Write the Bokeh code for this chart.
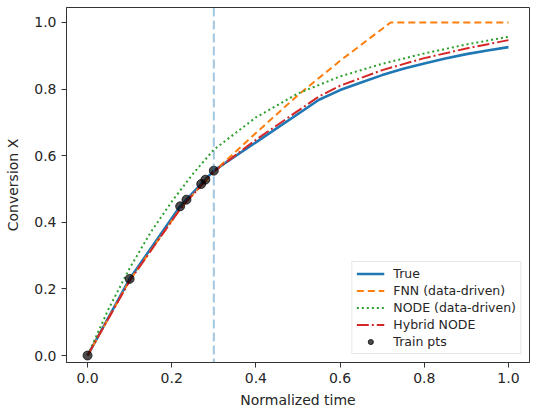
from bokeh.plotting import figure
from bokeh.models import Range1d, Legend, LegendItem, FixedTicker, Span
from bokeh.embed import file_html
from bokeh.resources import INLINE

# ---- data ----
t_true = [0.0, 0.10, 0.22, 0.235, 0.27, 0.28, 0.30, 0.55, 0.60, 0.65, 0.70, 0.75, 0.80, 0.85, 0.90, 0.95, 1.0]
x_true = [0.0, 0.230, 0.448, 0.468, 0.515, 0.528, 0.555, 0.768, 0.797, 0.820, 0.842, 0.861, 0.877, 0.892, 0.905, 0.916, 0.926]

t_fnn = [0.0, 0.10, 0.22, 0.235, 0.27, 0.28, 0.30, 0.40, 0.50, 0.60, 0.72, 1.0]
x_fnn = [0.0, 0.225, 0.440, 0.462, 0.510, 0.524, 0.552, 0.668, 0.782, 0.885, 1.0, 1.0]

t_node = [0.0, 0.05, 0.10, 0.15, 0.20, 0.25, 0.30, 0.40, 0.50, 0.60, 0.70, 0.80, 0.90, 1.0]
x_node = [0.0, 0.140, 0.262, 0.370, 0.462, 0.545, 0.618, 0.715, 0.787, 0.838, 0.876, 0.907, 0.934, 0.957]

t_hyb = [0.0, 0.10, 0.22, 0.235, 0.27, 0.28, 0.30, 0.40, 0.55, 0.60, 0.70, 0.80, 0.90, 1.0]
x_hyb = [0.0, 0.224, 0.440, 0.462, 0.510, 0.524, 0.552, 0.648, 0.778, 0.810, 0.857, 0.893, 0.922, 0.947]

t_train = [0.0, 0.10, 0.22, 0.235, 0.27, 0.28, 0.30]
x_train = [0.0, 0.230, 0.448, 0.468, 0.515, 0.528, 0.555]

t_split = 0.3
ticks = [0.0, 0.2, 0.4, 0.6, 0.8, 1.0]
tick_labels = {0.0: "0.0", 0.2: "0.2", 0.4: "0.4", 0.6: "0.6", 0.8: "0.8", 1.0: "1.0"}

FONT = "DejaVu Sans"

p = figure(width=536, height=415, output_backend="svg", toolbar_location=None,
           x_range=Range1d(-0.05, 1.05), y_range=Range1d(-0.021, 1.045),
           min_border_left=66, min_border_right=7, min_border_top=7, min_border_bottom=53)
p.xgrid.visible = False
p.ygrid.visible = False
p.outline_line_color = "#333333"
p.outline_line_width = 1
p.background_fill_color = "white"
p.border_fill_color = "white"

for ax in (p.xaxis[0], p.yaxis[0]):
    ax.ticker = FixedTicker(ticks=ticks)
    ax.major_label_overrides = tick_labels
    ax.minor_tick_line_color = None
    ax.major_tick_in = 0
    ax.major_tick_out = 5
    ax.major_label_text_font = FONT
    ax.major_label_text_font_size = "14px"
    ax.major_label_text_color = "#262626"
    ax.axis_label_text_font = FONT
    ax.axis_label_text_font_size = "14px"
    ax.axis_label_text_font_style = "normal"
    ax.axis_label_text_color = "#262626"
    ax.axis_line_color = "#333333"
    ax.major_tick_line_color = "#333333"
p.xaxis.axis_label = "Normalized time"
p.yaxis.axis_label = "Conversion X"
p.xaxis.major_label_standoff = 5
p.yaxis.major_label_standoff = 5
p.xaxis.axis_label_standoff = 6
p.yaxis.axis_label_standoff = 10

p.add_layout(Span(location=t_split, dimension="height", line_color="#1f77b4",
                  line_alpha=0.42, line_width=2, line_dash="9 4"))

r_true = p.line(t_true, x_true, line_color="#1f77b4", line_width=2.6)
r_fnn = p.line(t_fnn, x_fnn, line_color="#ff7f0e", line_width=2, line_dash="7 4")
r_node = p.line(t_node, x_node, line_color="#2ca02c", line_width=2, line_dash="2 3")
r_hyb = p.line(t_hyb, x_hyb, line_color="#d62728", line_width=2, line_dash="12 3 2 3")
r_train = p.scatter(t_train, x_train, size=9, fill_color="black", fill_alpha=0.7,
                    line_color="black", line_alpha=0.7)

legend = Legend(items=[
    LegendItem(label="True", renderers=[r_true]),
    LegendItem(label="FNN (data-driven)", renderers=[r_fnn]),
    LegendItem(label="NODE (data-driven)", renderers=[r_node]),
    LegendItem(label="Hybrid NODE", renderers=[r_hyb]),
    LegendItem(label="Train pts", renderers=[r_train]),
], location="bottom_right")
legend.label_text_font = FONT
legend.label_text_font_size = "12.5px"
legend.label_text_color = "#262626"
legend.glyph_width = 28
legend.glyph_height = 13
legend.label_height = 13
legend.spacing = 2
legend.padding = 4
legend.margin = 8
legend.label_standoff = 9
legend.border_line_color = "#d0d0d0"
legend.border_line_width = 1
legend.background_fill_alpha = 0.8
p.add_layout(legend)

open("out.html", "w").write(file_html(p, INLINE))
